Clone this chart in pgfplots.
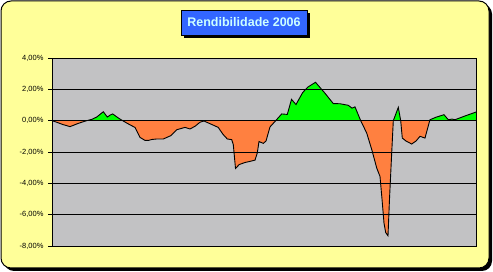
\documentclass[border=0pt]{standalone}
\usepackage{pgfplots}
\pgfplotsset{compat=1.18}
\usepackage{pgfplotstable}
\usepackage{fontspec}
\setmainfont{Liberation Sans}
\definecolor{bgyellow}{RGB}{255,255,153}
\definecolor{plotgray}{RGB}{194,194,196}
\definecolor{posgreen}{RGB}{0,255,0}
\definecolor{negorange}{RGB}{255,128,64}
\definecolor{titleblue}{RGB}{51,102,255}
\definecolor{titletext}{RGB}{204,255,255}
\pgfplotstableread{
x y
52 0
56.7 -0.1
63 -0.25
70 -0.38
73.3 -0.3
78 -0.18
81.7 -0.1
86.7 0
91.7 0.08
96.7 0.23
100 0.4
103.3 0.57
107.3 0.23
110 0.35
112.7 0.43
118.3 0.17
122.7 0
126.7 -0.15
131 -0.3
135 -0.43
140 -1.07
145 -1.26
148.3 -1.26
152 -1.2
156.7 -1.17
163.3 -1.17
170.7 -0.96
176.7 -0.58
185 -0.43
190 -0.53
195 -0.36
200 -0.1
204 -0.02
206.7 -0.1
212 -0.25
218.3 -0.43
222.7 -0.85
227.3 -1.17
231.7 -1.21
233.3 -1.53
235.5 -3.05
239.3 -2.8
245 -2.67
250 -2.6
255 -2.52
257.3 -2.06
259 -1.33
263.3 -1.45
266 -1.3
270 -0.40
275.7 0
281.7 0.43
287.3 0.40
291.5 1.36
296 1.03
302.7 1.8
308 2.15
315.5 2.45
325 1.75
333.3 1.09
340 1.08
348.3 0.98
352 0.8
355 0.88
360.7 0
366.7 -0.79
372 -1.9
376.7 -3.02
380 -3.56
382 -5.0
384 -6.54
385.7 -7.14
388 -7.35
389.5 -5.0
391.7 -2.07
393.3 0
398.3 0.85
400.7 0
402.3 -1.11
406 -1.3
411.7 -1.49
416 -1.3
420 -1.0
425 -1.11
429.7 0
430 0.06
436 0.22
444 0.38
448.3 0.06
452 0.1
455 0.06
465 0.3
476 0.55
}\rendib
\begin{document}
\begin{tikzpicture}[x=1pt,y=1pt]
\useasboundingbox (0,0) rectangle (493,272);
% frame with shadow
\fill[black,rounded corners=10pt] (4,1) rectangle (492,268);
\draw[fill=bgyellow,line width=1pt,rounded corners=10pt] (1,4) rectangle (489,271);
% title
\fill[black] (184,234) rectangle (310,259);
\draw[fill=titleblue,line width=0.8pt] (181,237) rectangle (307,262);
\node[text=titletext,font=\fontsize{12.5}{14}\selectfont\bfseries] at (244,249.5) {Rendibilidade 2006};
\begin{axis}[
  at={(52pt,26pt)}, anchor=south west,
  scale only axis, width=424pt, height=188pt,
  xmin=52, xmax=476, ymin=-8, ymax=4,
  xtick=\empty,
  ytick={-8,-6,-4,-2,0,2,4},
  yticklabels={{-8,00\%},{-6,00\%},{-4,00\%},{-2,00\%},{0,00\%},{2,00\%},{4,00\%}},
  yticklabel style={font=\fontsize{7.5}{9}\selectfont, xshift=-1pt},
  ymajorgrids, grid style={black, line width=0.8pt},
  axis line style={black, line width=0.9pt},
  major tick length=4pt,
  ytick pos=left,
  tick style={black, line width=0.8pt},
  tick align=outside,
  axis background/.style={fill=plotgray},
  axis on top,
  clip=true,
]
\begin{scope}
\clip (axis cs:52,0) rectangle (axis cs:476,4);
\addplot[fill=posgreen, draw=none] table[x=x,y=y] {\rendib} \closedcycle;
\end{scope}
\begin{scope}
\clip (axis cs:52,-8) rectangle (axis cs:476,0);
\addplot[fill=negorange, draw=none] table[x=x,y=y] {\rendib} \closedcycle;
\end{scope}
\addplot[black, line width=0.9pt, mark=none] table[x=x,y=y] {\rendib};
\end{axis}
\end{tikzpicture}
\end{document}
